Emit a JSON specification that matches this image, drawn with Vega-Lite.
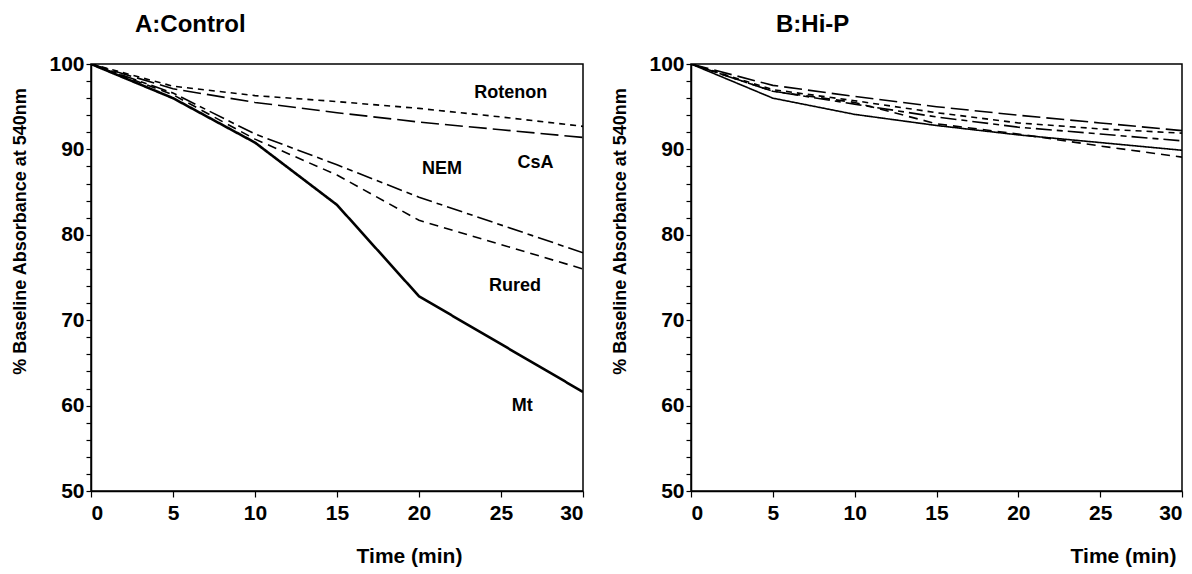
{
  "$schema": "https://vega.github.io/schema/vega-lite/v6.json",
  "background": "white",
  "padding": {"left": 10, "top": 12, "right": 5, "bottom": 5},
  "spacing": 25,
  "config": {
    "font": "Liberation Sans",
    "view": {"stroke": "black", "strokeWidth": 1.5},
    "axis": {
      "grid": false,
      "labelOverlap": false,
      "domainColor": "black",
      "domainWidth": 1.5,
      "tickColor": "black",
      "tickWidth": 1.2,
      "labelColor": "black",
      "labelFont": "Liberation Sans",
      "labelFontWeight": "bold",
      "labelFontSize": 21,
      "titleColor": "black",
      "titleFont": "Liberation Sans",
      "titleFontWeight": "bold",
      "titleFontSize": 18
    },
    "title": {"font": "Liberation Sans", "fontWeight": "bold", "fontSize": 24, "color": "black", "anchor": "start", "frame": "group"}
  },
  "datasets": {
    "A": [
      {"series": "Mt", "t": 0, "v": 100}, {"series": "Mt", "t": 5, "v": 96.0}, {"series": "Mt", "t": 10, "v": 90.8}, {"series": "Mt", "t": 15, "v": 83.5}, {"series": "Mt", "t": 20, "v": 72.8}, {"series": "Mt", "t": 30, "v": 61.6},
      {"series": "Rotenon", "t": 0, "v": 100}, {"series": "Rotenon", "t": 5, "v": 97.4}, {"series": "Rotenon", "t": 10, "v": 96.3}, {"series": "Rotenon", "t": 15, "v": 95.6}, {"series": "Rotenon", "t": 20, "v": 94.8}, {"series": "Rotenon", "t": 25, "v": 93.8}, {"series": "Rotenon", "t": 30, "v": 92.7},
      {"series": "CsA", "t": 0, "v": 100}, {"series": "CsA", "t": 5, "v": 97.1}, {"series": "CsA", "t": 10, "v": 95.5}, {"series": "CsA", "t": 15, "v": 94.3}, {"series": "CsA", "t": 20, "v": 93.2}, {"series": "CsA", "t": 25, "v": 92.3}, {"series": "CsA", "t": 30, "v": 91.4},
      {"series": "NEM", "t": 0, "v": 100}, {"series": "NEM", "t": 5, "v": 96.6}, {"series": "NEM", "t": 10, "v": 91.8}, {"series": "NEM", "t": 15, "v": 88.2}, {"series": "NEM", "t": 20, "v": 84.4}, {"series": "NEM", "t": 30, "v": 77.9},
      {"series": "Rured", "t": 0, "v": 100}, {"series": "Rured", "t": 5, "v": 96.4}, {"series": "Rured", "t": 10, "v": 91.2}, {"series": "Rured", "t": 15, "v": 87.0}, {"series": "Rured", "t": 20, "v": 81.7}, {"series": "Rured", "t": 30, "v": 76.0}
    ],
    "B": [
      {"series": "Mt", "t": 0, "v": 100}, {"series": "Mt", "t": 5, "v": 96.0}, {"series": "Mt", "t": 10, "v": 94.1}, {"series": "Mt", "t": 15, "v": 92.8}, {"series": "Mt", "t": 20, "v": 91.7}, {"series": "Mt", "t": 25, "v": 90.8}, {"series": "Mt", "t": 30, "v": 89.9},
      {"series": "Rotenon", "t": 0, "v": 100}, {"series": "Rotenon", "t": 5, "v": 97.0}, {"series": "Rotenon", "t": 10, "v": 95.7}, {"series": "Rotenon", "t": 15, "v": 94.3}, {"series": "Rotenon", "t": 20, "v": 93.1}, {"series": "Rotenon", "t": 25, "v": 92.4}, {"series": "Rotenon", "t": 30, "v": 91.9},
      {"series": "CsA", "t": 0, "v": 100}, {"series": "CsA", "t": 5, "v": 97.5}, {"series": "CsA", "t": 10, "v": 96.2}, {"series": "CsA", "t": 15, "v": 95.0}, {"series": "CsA", "t": 20, "v": 94.0}, {"series": "CsA", "t": 25, "v": 93.1}, {"series": "CsA", "t": 30, "v": 92.2},
      {"series": "NEM", "t": 0, "v": 100}, {"series": "NEM", "t": 5, "v": 96.8}, {"series": "NEM", "t": 10, "v": 95.3}, {"series": "NEM", "t": 15, "v": 93.8}, {"series": "NEM", "t": 20, "v": 92.6}, {"series": "NEM", "t": 25, "v": 91.8}, {"series": "NEM", "t": 30, "v": 91.0},
      {"series": "Rured", "t": 0, "v": 100}, {"series": "Rured", "t": 5, "v": 96.8}, {"series": "Rured", "t": 10, "v": 95.5}, {"series": "Rured", "t": 15, "v": 93.0}, {"series": "Rured", "t": 20, "v": 91.8}, {"series": "Rured", "t": 25, "v": 90.4}, {"series": "Rured", "t": 30, "v": 89.1}
    ],
    "labelsA": [
      {"t": 25.6, "v": 96.6, "label": "Rotenon"},
      {"t": 27.1, "v": 88.4, "label": "CsA"},
      {"t": 21.4, "v": 87.7, "label": "NEM"},
      {"t": 25.85, "v": 74.0, "label": "Rured"},
      {"t": 26.3, "v": 60.0, "label": "Mt"}
    ]
  },
  "hconcat": [
    {
      "width": 492,
      "height": 427,
      "title": {"text": "A:Control", "dx": 44, "offset": 16},
      "encoding": {
        "x": {"field": "t", "type": "quantitative", "scale": {"domain": [0, 30], "nice": false},
              "axis": {"values": [0, 5, 10, 15, 20, 25, 30], "tickSize": 6, "labelPadding": 5, "title": "Time (min)", "titlePadding": 22, "titleFontSize": 21, "titleX": 318, "titleAlign": "center"}},
        "y": {"field": "v", "type": "quantitative", "scale": {"domain": [50, 100], "nice": false, "zero": false},
              "axis": {"values": [50, 52, 54, 56, 58, 60, 62, 64, 66, 68, 70, 72, 74, 76, 78, 80, 82, 84, 86, 88, 90, 92, 94, 96, 98, 100],
                       "labelExpr": "datum.value % 10 === 0 ? datum.label : ''",
                       "tickSize": 5, "labelPadding": 2,
                       "title": "% Baseline Absorbance at 540nm", "titlePadding": 12, "minExtent": 50, "maxExtent": 50, "titleY": 167}}
      },
      "layer": [
        {
          "data": {"name": "A"},
          "mark": {"type": "line", "color": "black", "clip": true},
          "encoding": {
            "detail": {"field": "series"},
            "strokeDash": {"field": "series", "type": "nominal", "legend": null,
                           "scale": {"domain": ["Mt", "Rotenon", "CsA", "NEM", "Rured"], "range": [[1, 0], [6, 5], [18, 6], [16, 5, 6, 5], [9, 6]]}},
            "strokeWidth": {"condition": {"test": "datum.series === 'Mt'", "value": 2.6}, "value": 1.6}
          }
        },
        {
          "data": {"name": "labelsA"},
          "mark": {"type": "text", "font": "Liberation Sans", "fontWeight": "bold", "fontSize": 18, "color": "black", "align": "center", "baseline": "middle"},
          "encoding": {
            "text": {"field": "label"}
          }
        }
      ]
    },
    {
      "width": 491,
      "height": 427,
      "title": {"text": "B:Hi-P", "dx": 85, "offset": 16},
      "data": {"name": "B"},
      "mark": {"type": "line", "color": "black", "clip": true, "strokeWidth": 1.6},
      "encoding": {
        "x": {"field": "t", "type": "quantitative", "scale": {"domain": [0, 30], "nice": false},
              "axis": {"values": [0, 5, 10, 15, 20, 25, 30], "tickSize": 6, "labelPadding": 5, "title": "Time (min)", "titlePadding": 22, "titleFontSize": 21, "titleX": 432, "titleAlign": "center"}},
        "y": {"field": "v", "type": "quantitative", "scale": {"domain": [50, 100], "nice": false, "zero": false},
              "axis": {"values": [50, 52, 54, 56, 58, 60, 62, 64, 66, 68, 70, 72, 74, 76, 78, 80, 82, 84, 86, 88, 90, 92, 94, 96, 98, 100],
                       "labelExpr": "datum.value % 10 === 0 ? datum.label : ''",
                       "tickSize": 5, "labelPadding": 2,
                       "title": "% Baseline Absorbance at 540nm", "titlePadding": 12, "minExtent": 50, "maxExtent": 50, "titleY": 167}},
        "detail": {"field": "series"},
        "strokeDash": {"field": "series", "type": "nominal", "legend": null,
                       "scale": {"domain": ["Mt", "Rotenon", "CsA", "NEM", "Rured"], "range": [[1, 0], [6, 5], [18, 6], [16, 5, 6, 5], [9, 6]]}}
      }
    }
  ]
}
